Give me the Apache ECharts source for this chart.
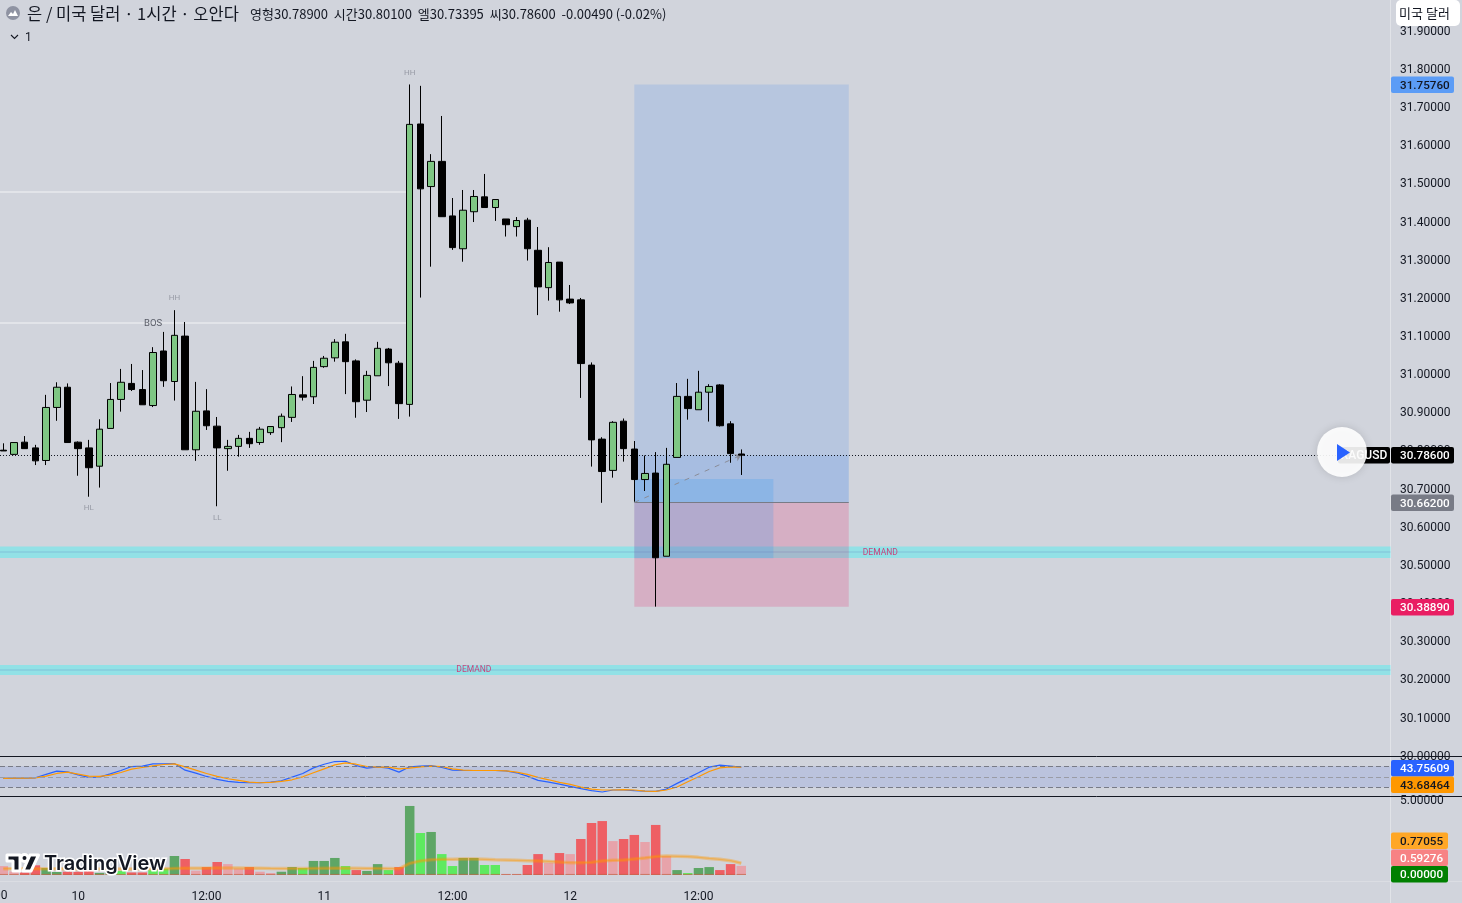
<!DOCTYPE html>
<html><head><meta charset="utf-8"><style>html,body{margin:0;padding:0;background:#d1d4dc}#c{width:1462px;height:903px}</style>
<script src="https://cdn.jsdelivr.net/npm/echarts@6/dist/echarts.min.js"></script></head><body><div id="c"></div>
<script>
const opens=[30.799,30.788,30.820,30.805,30.772,30.911,30.964,30.820,30.805,30.757,30.856,30.932,30.974,30.958,30.916,31.059,30.979,31.098,30.800,30.902,30.862,30.803,30.809,30.830,30.819,30.845,30.858,30.885,30.944,30.939,31.018,31.041,31.083,31.033,30.930,30.994,31.064,31.027,30.919,31.654,31.490,31.556,31.413,31.327,31.424,31.463,31.435,31.405,31.385,31.402,31.323,31.225,31.292,31.195,31.193,31.022,30.828,30.746,30.875,30.802,30.722,30.739,30.521,30.780,30.940,30.905,30.951,30.970,30.868,30.789];
const closes=[30.797,30.819,30.803,30.771,30.911,30.964,30.819,30.803,30.753,30.854,30.932,30.977,30.958,30.918,31.055,30.981,31.100,30.800,30.901,30.863,30.805,30.809,30.830,30.816,30.854,30.861,30.888,30.945,30.938,31.016,31.040,31.082,31.031,30.926,30.995,31.066,31.028,30.921,31.653,31.484,31.556,31.411,31.330,31.428,31.464,31.435,31.456,31.390,31.401,31.327,31.227,31.291,31.193,31.185,31.026,30.826,30.743,30.872,30.803,30.722,30.738,30.517,30.762,30.940,30.908,30.951,30.966,30.863,30.790,30.786];
const lows=[30.797,30.786,30.803,30.760,30.760,30.876,30.819,30.732,30.677,30.701,30.856,30.900,30.954,30.918,30.912,30.965,30.929,30.800,30.771,30.852,30.652,30.745,30.782,30.805,30.813,30.839,30.820,30.873,30.929,30.920,31.015,31.031,30.946,30.884,30.899,30.994,30.967,30.881,30.887,31.199,31.280,31.411,31.324,31.293,31.397,31.435,31.400,31.359,31.359,31.296,31.153,31.191,31.162,31.182,30.936,30.756,30.661,30.727,30.769,30.664,30.692,30.3889,30.521,30.780,30.879,30.905,30.874,30.861,30.766,30.734];
const highs=[30.817,30.819,30.836,30.813,30.944,30.977,30.974,30.822,30.826,30.880,30.975,31.012,31.025,31.009,31.069,31.109,31.166,31.135,30.978,30.959,30.886,30.826,30.839,30.847,30.860,30.861,30.895,30.966,30.993,31.033,31.046,31.090,31.104,31.037,31.007,31.083,31.067,31.033,31.7576,31.754,31.575,31.675,31.460,31.481,31.481,31.523,31.456,31.405,31.410,31.408,31.384,31.331,31.292,31.232,31.198,31.029,30.833,30.875,30.882,30.823,30.785,30.794,30.805,30.975,30.986,31.007,30.972,30.972,30.875,30.801];
const rsi=[46.8,47.5,47.5,48.1,54.6,61.0,59.7,53.9,48.8,49.4,55.8,62.3,70.0,70.7,75.2,75.2,75.8,62.9,57.1,50.7,44.9,41.0,39.1,38.4,38.4,39.7,42.3,49.4,56.5,67.4,74.5,79.7,80.3,71.9,66.8,69.4,66.8,59.1,69.4,70.7,71.9,68.1,62.9,62.3,62.3,62.3,62.3,61.6,57.8,51.3,43.0,39.7,35.9,31.4,26.9,23.0,20.4,24.3,24.3,23.0,22.3,21.7,26.2,37.2,47.4,57.8,68.7,72.6,70.7,68.7];
const rsiMa=[46.8,47.5,47.5,48.1,51.3,56.5,59.1,55.2,51.3,50.7,53.3,58.4,64.9,68.1,71.3,73.9,75.2,69.4,62.9,56.5,50.7,46.2,43.0,39.7,38.4,39.1,41.0,44.2,50.0,57.8,65.5,73.2,77.1,74.5,70.0,68.7,68.7,65.5,66.8,69.4,70.7,70.0,65.5,62.9,62.3,62.3,62.3,61.6,59.1,54.6,48.8,44.2,39.1,35.2,30.1,26.2,24.3,24.3,24.9,24.3,22.3,21.7,24.3,30.1,40.4,50.0,60.3,67.4,69.4,68.7];
const volume=[0.58,0.22,0.15,0.63,0.45,0.18,0.20,0.20,0.25,0.12,0.30,0.25,0.15,0.15,0.30,0.40,1.25,1.05,0.27,0.51,0.85,0.71,0.42,0.51,0.20,0.11,0.20,0.51,0.45,0.92,0.92,1.12,0.58,0.31,0.25,0.71,0.31,0.51,4.60,2.79,2.86,1.38,0.58,1.12,1.12,0.65,0.65,0.02,0.02,0.65,1.38,0.80,1.45,1.38,2.39,3.46,3.59,2.25,2.39,2.66,2.19,3.33,1.25,0.31,0.11,0.45,0.51,0.31,0.71,0.59276];
const volKind="PPRRGGRRRGGLRRLLGRPRRPPRPPGGLGGGLRGGLRGLGLLGGLLRRRRPRPRRRPRRPRPGLGGRRP";
const volBase=[0.05,0.05,0.05,0.05,0.05,0.05,0.05,0.05,0.05,0.05,0.05,0.05,0.05,0.05,0.05,0.05,0.05,0.05,0.05,0.05,0.05,0.05,0.05,0.05,0.05,0.05,0.05,0.05,0.05,0.05,0.05,0.05,0.05,0.05,0.05,0.05,0.05,0.05,0.05,0.05,0.05,0.05,0.05,0.05,0.05,0.05,0.05,0.05,0.05,0.05,0.05,0.05,0.05,0.05,0.05,0.05,0.05,0.05,0.05,0.05,0.05,0.05,0.05,0.05,0.05,0.05,0.05,0.05,0.05,0.05];
const volMa=[0.40,0.40,0.40,0.39,0.39,0.39,0.38,0.38,0.38,0.38,0.38,0.38,0.38,0.39,0.39,0.39,0.42,0.44,0.44,0.44,0.45,0.45,0.45,0.44,0.44,0.42,0.41,0.41,0.41,0.42,0.43,0.44,0.44,0.43,0.42,0.42,0.41,0.40,0.76,0.92,1.00,1.03,1.03,1.05,1.05,1.03,1.00,0.98,0.96,0.94,0.92,0.89,0.85,0.80,0.80,0.83,0.92,0.96,0.98,1.05,1.12,1.21,1.25,1.23,1.21,1.16,1.09,1.03,0.94,0.77];
const axisLabels={7:'10',19:'12:00',30:'11',42:'12:00',53:'12',65:'12:00'};
const marks=[['HH',38,31.788,'h'],['HH',16,31.198,'h'],['HL',8,30.647,'h'],['LL',20,30.621,'h'],['BOS',14,31.130,'b'],['DEMAND',82,30.531,'d'],['DEMAND',44,30.222,'d']];
const demandZones=[[30.5465,30.5164,30.532],[30.2359,30.2097,30.223]];
const entry=30.662,target=31.7576,stop=30.3889,last=30.786;

const FONT='Roboto, "Noto Sans CJK KR", sans-serif', KR='"Noto Sans CJK KR", Roboto, sans-serif';
const INK='#131722';
const cats=Array.from({length:130},(_,k)=>axisLabels[k]||'');
const kindColor={G:'#5ea666',L:'#5eea60',R:'#ee5f64',P:'#e7a3aa'};
const markStyle={h:{color:'#8a8d98',fontSize:8},b:{color:'#3a3d48',fontSize:9.5},d:{color:'#d81b60',fontSize:8.5}};
const candleData=opens.map((o,i)=>[o,closes[i],lows[i],highs[i]]);
const XMIN=-0.3086,XMAX=129.75;

const blocks=[];
demandZones.forEach(z=>{
  blocks.push([{xAxis:XMIN,yAxis:z[0],itemStyle:{color:'rgba(0,255,255,.3)'}},{xAxis:XMAX,yAxis:z[1]}]);
  blocks.push([{xAxis:XMIN,yAxis:z[2]+0.002,itemStyle:{color:'rgba(90,120,190,.2)'}},{xAxis:XMAX,yAxis:z[2]-0.002}]);
});
const boxL=59,boxR=79.05;
blocks.push([{xAxis:boxL,yAxis:target,itemStyle:{color:'rgba(60,130,240,.17)'}},{xAxis:boxR,yAxis:entry}]);
blocks.push([{xAxis:boxL,yAxis:entry,itemStyle:{color:'rgba(233,30,99,.2)'}},{xAxis:boxR,yAxis:stop}]);
blocks.push([{xAxis:boxL,yAxis:last,itemStyle:{color:'rgba(33,120,243,.1)'}},{xAxis:boxR,yAxis:entry}]);
blocks.push([{xAxis:boxL,yAxis:30.7235,itemStyle:{color:'rgba(33,150,243,.2)'}},{xAxis:72,yAxis:30.516}]);

const WHITE='rgba(255,255,255,.38)';
const lines=[
 [{xAxis:XMIN,yAxis:31.4758,lineStyle:{color:WHITE,width:2,type:'solid'}},{xAxis:37.75,yAxis:31.4758}],
 [{xAxis:XMIN,yAxis:31.1324,lineStyle:{color:WHITE,width:2,type:'solid'}},{xAxis:37.75,yAxis:31.1324}],
 [{xAxis:XMIN,yAxis:last,lineStyle:{color:'#131722',width:1.1,type:[1,2]}},{xAxis:XMAX,yAxis:last}],
 [{xAxis:boxL,yAxis:entry,lineStyle:{color:'#787b86',width:1.2,type:'solid'}},{xAxis:boxR,yAxis:entry}],
 [{xAxis:boxL,yAxis:entry,symbol:'none',lineStyle:{color:'#8a8d99',width:1,type:[5,6]}},{xAxis:69,yAxis:last,symbol:'arrow',symbolSize:6}]
];
const rsiLine=(v,c)=>[{xAxis:XMIN,yAxis:v,lineStyle:{color:c,width:1,type:[5,3]}},{xAxis:XMAX,yAxis:v}];

const BW=10.695, CATW=BW*129;
const option={
 animation:false,backgroundColor:'#d1d4dc',textStyle:{fontFamily:FONT},
 grid:[
  {left:3.3,width:CATW,top:0,height:755},
  {left:0,width:1391,top:0,height:755},
  {left:0,width:1391,top:756.5,height:40},
  {left:3.3,width:CATW,top:797,height:77.7},
  {left:0,width:1391,top:1.7,height:755},
  {left:0,width:1391,top:798.5,height:77.7}
 ],
 xAxis:[
  {type:'category',gridIndex:0,boundaryGap:false,data:cats,show:false},
  {type:'value',gridIndex:1,min:XMIN,max:XMAX,show:false},
  {type:'value',gridIndex:2,min:XMIN,max:XMAX,show:false},
  {type:'category',gridIndex:3,boundaryGap:false,data:cats,axisLine:{show:false},axisTick:{show:false},splitLine:{show:false},
   axisLabel:{interval:0,margin:16,fontSize:12,color:INK,fontFamily:FONT,hideOverlap:false}},
  {type:'value',gridIndex:4,min:XMIN,max:XMAX,show:false},
  {type:'value',gridIndex:5,min:XMIN,max:XMAX,show:false}
 ],
 yAxis:[
  {type:'value',gridIndex:0,min:30,max:31.979,show:false},
  {type:'value',gridIndex:1,min:30,max:31.979,show:false},
  {type:'value',gridIndex:2,min:11.7,max:89.5,show:false},
  {type:'value',gridIndex:3,min:0,max:5.2,show:false},
  {type:'value',gridIndex:4,min:30,max:31.979,interval:0.1,position:'right',splitLine:{show:false},axisLine:{show:false},axisTick:{show:false},
   axisLabel:{margin:9,fontSize:12,color:INK,fontFamily:FONT,showMaxLabel:false,formatter:v=>v.toFixed(5)}},
  {type:'value',gridIndex:5,min:0,max:5.2,interval:5,position:'right',splitLine:{show:false},axisLine:{show:false},axisTick:{show:false},
   axisLabel:{margin:9,fontSize:12,color:INK,fontFamily:FONT,showMaxLabel:false,formatter:v=>v===5?'5.00000':''}}
 ],
 series:[
  {type:'line',xAxisIndex:1,yAxisIndex:1,z:1,silent:true,symbol:'none',data:[[0,last]],lineStyle:{opacity:0},
   markArea:{silent:true,data:blocks},markLine:{silent:true,symbol:'none',label:{show:false},data:lines}},
  {type:'candlestick',xAxisIndex:0,yAxisIndex:0,z:5,barWidth:7,clip:false,data:candleData,
   itemStyle:{color:'#7fc784',color0:'#000000',borderColor:'#000000',borderColor0:'#000000',borderWidth:1}},
  {type:'scatter',xAxisIndex:1,yAxisIndex:1,z:6,silent:true,symbolSize:0,
   data:marks.map(m=>({value:[m[1],m[2]],name:m[0],label:markStyle[m[3]]})),
   label:{show:true,position:'inside',formatter:p=>p.name,fontFamily:FONT}},
  {type:'line',xAxisIndex:2,yAxisIndex:2,z:1,silent:true,symbol:'none',data:[[0,50]],lineStyle:{opacity:0},
   markArea:{silent:true,data:[[{xAxis:XMIN,yAxis:70.5,itemStyle:{color:'rgba(90,120,230,.18)'}},{xAxis:XMAX,yAxis:29.5}]]},
   markLine:{silent:true,symbol:'none',label:{show:false},data:[rsiLine(70,'#787b86'),rsiLine(50,'#9a9ca6'),rsiLine(30,'#787b86')]}},
  {type:'line',xAxisIndex:2,yAxisIndex:2,z:3,symbol:'none',data:rsi.map((v,i)=>[i,v]),lineStyle:{color:'#2962ff',width:1.2}},
  {type:'line',xAxisIndex:2,yAxisIndex:2,z:4,symbol:'none',data:rsiMa.map((v,i)=>[i,v]),lineStyle:{color:'#ff9800',width:1.2}},
  {type:'bar',xAxisIndex:3,yAxisIndex:3,z:2,barWidth:9.5,barGap:'-100%',silent:true,clip:false,
   data:volume.map((v,i)=>({value:v,itemStyle:{color:kindColor[volKind[i]]}}))},
  {type:'bar',xAxisIndex:3,yAxisIndex:3,z:3,barWidth:9.5,barGap:'-100%',silent:true,clip:false,data:volBase,itemStyle:{color:'rgba(190,70,30,.75)'}},
  {type:'line',xAxisIndex:3,yAxisIndex:3,z:4,symbol:'none',data:volMa,lineStyle:{color:'rgba(255,152,0,.35)',width:3.5}},
  {type:'line',xAxisIndex:3,yAxisIndex:3,z:4,symbol:'none',data:volMa,lineStyle:{color:'rgba(255,152,0,.4)',width:1.2}}
 ]
};

const g=[];
function rect(x,y,w,h,fill,r,extra){g.push({type:'rect',z:100,shape:{x,y,width:w,height:h,r:r||0},style:Object.assign({fill},extra||{}),silent:true});}
function text(x,y,t,fill,font,align){g.push({type:'text',z:101,x,y,style:{text:t,fill,font,align:align||'left',verticalAlign:'middle'},silent:true});}
function hline(y,c,x2){g.push({type:'line',z:90,shape:{x1:0,y1:y,x2:x2||1462,y2:y},style:{stroke:c,lineWidth:1},silent:true});}
g.push({type:'line',z:80,shape:{x1:1390.5,y1:0,x2:1390.5,y2:903},style:{stroke:'rgba(255,255,255,.35)',lineWidth:1},silent:true});
hline(881.5,'rgba(255,255,255,.22)');
hline(756.5,INK);hline(796.5,INK);
// clipped left time label
text(-7.4,896,'18:00',INK,'400 12px '+FONT,'center');
// header
g.push({type:'circle',z:100,shape:{cx:13,cy:13,r:7},style:{fill:'#8f93a2'},silent:true});
g.push({type:'polygon',z:101,shape:{points:[[8,16],[11,12],[13,14],[15,10],[18,16]]},style:{fill:'#fff'},silent:true});
text(27,14,'은 / 미국 달러 · 1시간 · 오안다',INK,'400 16.5px '+KR);
text(250,14.5,'영형30.78900  시간30.80100  엘30.73395  씨30.78600  -0.00490 (-0.02%)',INK,'400 13px '+KR);
g.push({type:'polyline',z:101,shape:{points:[[11,35],[14.5,38.5],[18,35]]},style:{stroke:INK,fill:null,lineWidth:1.1},silent:true});
text(25,37.5,'1',INK,'400 12px '+FONT);
// symbol box
rect(1396,0,64,26,'#ffffff',5);
text(1424.5,13,'미국 달러',INK,'400 13px '+KR,'center');
// price tags
function tag(y,t,bg,fg,w){rect(1391,y,w||63,16.5,bg,2);text(1400,y+9.5,t,fg,'500 11.7px '+FONT,'left');}
tag(76.5,'31.75760','#5b9cf6',INK);
tag(447,'30.78600','#000000','#ffffff');
tag(494.5,'30.66200','#787b86','#ffffff');
tag(599,'30.38890','#e91e63','#ffffff');
tag(760,'43.75609','#2962ff','#ffffff');
tag(776.5,'43.68464','#ff9800',INK);
tag(832.5,'0.77055','#ffa726',INK,57);
tag(849.5,'0.59276','#f78284','#ffffff',57);
tag(866,'0.00000','#008000','#ffffff',57);
// ticker label + play button
g.push({type:'rect',z:100,shape:{x:1338,y:447,width:52,height:16.5,r:2},style:{fill:'#000'},silent:true});
text(1364,456,'XAGUSD','#ffffff','500 12px '+FONT,'center');
g.push({type:'circle',z:102,shape:{cx:1342,cy:452,r:25},style:{fill:'rgba(255,255,255,.9)',shadowBlur:8,shadowColor:'rgba(0,0,0,.15)'},silent:true});
g.push({type:'polygon',z:103,shape:{points:[[1337,444],[1350,452.5],[1337,461]]},style:{fill:'#2962ff'},silent:true});
// TradingView logo
const logoStyle={fill:'#131722',stroke:'#fff',lineWidth:3,lineJoin:'round'};
g.push({type:'polygon',z:110,shape:{points:[[7,855],[20,855],[20,871],[13,871],[13,861],[7,861]]},style:logoStyle,silent:true});
g.push({type:'circle',z:110,shape:{cx:24.5,cy:858,r:3.5},style:logoStyle,silent:true});
g.push({type:'polygon',z:110,shape:{points:[[30,855],[38.5,855],[31,871],[23,871]]},style:logoStyle,silent:true});
g.push({type:'text',z:111,x:44,y:863.5,style:{text:'TradingView',font:'600 20px Inter, sans-serif',fill:'#131722',stroke:'#fff',lineWidth:3,verticalAlign:'middle',align:'left'},silent:true});
option.graphic=g;

const chart=echarts.init(document.getElementById('c'),null,{renderer:'canvas',width:1462,height:903});
chart.setOption(option);
</script></body></html>
